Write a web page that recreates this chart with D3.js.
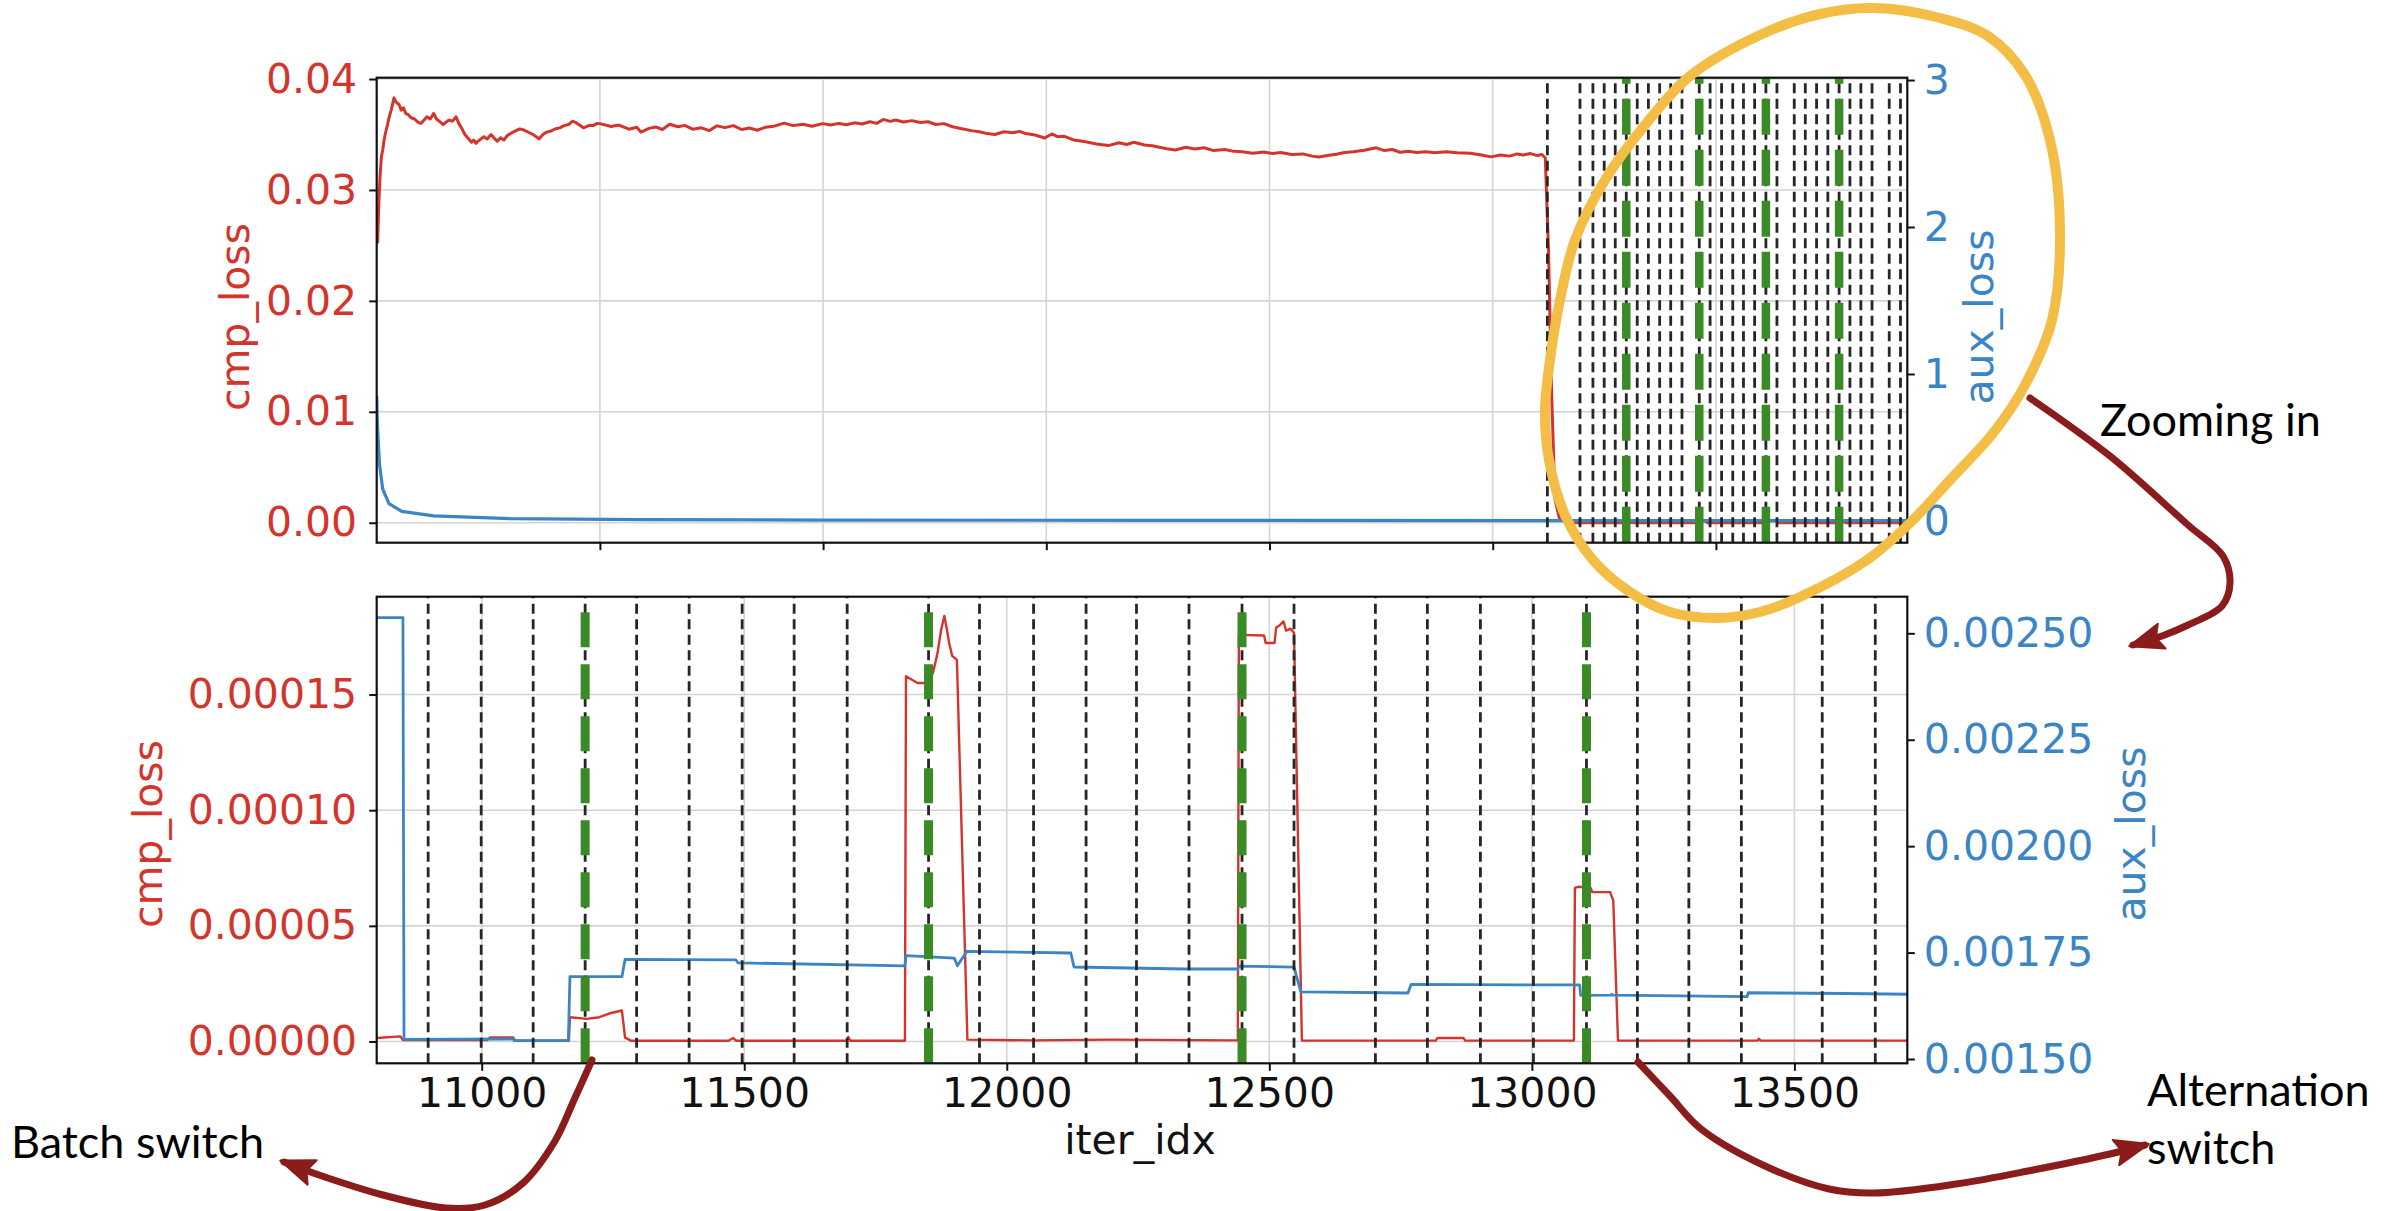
<!DOCTYPE html>
<html><head><meta charset="utf-8">
<script src="https://cdn.jsdelivr.net/npm/d3@7"></script>
<style>html,body{margin:0;padding:0;background:#fff}</style>
</head><body><svg id="c" width="2408" height="1211" xmlns="http://www.w3.org/2000/svg"></svg>
<script>
// ---------------- DATA ----------------
// Overview (top panel), early part of cmp_loss (iteration, value)
const overviewCmpIter = [8,20,30,42,54,66,80,95,110,130,155,175,200,220,240,260,281,310,340,370,397,425,450,480,511,535,560,595,620,650,680,711,735,760,790,825,850,870,890,908,935,960,990,1024,1050,1080,1110,1139,1170,1200,1240,1282,1320,1360,1400,1430,1454,1490,1520,1560,1597,1640,1680,1720,1756,1780,1810,1853,1900,1940,1975,
2000,2100,2170,2260,2330,2368,2440,2500,2560,2625,2700,2760,2830,2910,2980,3050,3120,3196,3270,3340,3410,3482,3560,3653,3730,3820,3900,3996,4070,4140,4210,4282,4350,4420,4480,4539,4600,4650,4720,4796,4870,4940,5010,5082,5160,5254,5330,5400,5470,5540,5620,5700,5760,5814,5900,5985,6050,6100,6157,6250,6350,6450,6556,6650,6720,6785,6880,6950,7013,7080,7156,7250,7330,7413,7500,7600,7680,7756,7850,7950,8030,8099,8200,8300,8380,8442,8520,8600,8671,8750,8850,8957,9030,9100,9170,9243,9320,9400,9480,9585,9680,9800,9900,9985,10070,10150,10220,10271,10340,10400,10440,10471,10500,10528,10558,10600,10700];
const overviewCmpVal = [0.0252,0.0290,0.0312,0.0330,0.0336,0.0345,0.0352,0.0358,0.0365,0.0372,0.0383,0.0379,0.0377,0.0372,0.0374,0.0369,0.0368,0.0365,0.0364,0.0361,0.0360,0.0363,0.0366,0.0364,0.0369,0.0364,0.0362,0.0359,0.0361,0.0363,0.0362,0.0366,0.0360,0.0356,0.0350,0.0346,0.0343,0.0345,0.0342,0.0344,0.0346,0.0348,0.0346,0.0350,0.0347,0.0344,0.0347,0.0345,0.0349,0.0351,0.0353,0.0355,0.0354,0.0352,0.0350,0.0348,0.0346,0.0350,0.0352,0.0353,0.0355,0.0356,0.0358,0.0359,0.0362,0.0361,0.0359,0.0356,0.0358,0.0358,0.0360,
0.03598,0.03572,0.03585,0.03548,0.03565,0.03522,0.03555,0.03568,0.03545,0.03592,0.03570,0.03582,0.03548,0.03560,0.03535,0.03578,0.03562,0.03580,0.03545,0.03558,0.03538,0.03565,0.03575,0.03602,0.03580,0.03592,0.03575,0.03598,0.03585,0.03600,0.03588,0.03605,0.03595,0.03615,0.03600,0.03636,0.03618,0.03630,0.03612,0.03625,0.03608,0.03615,0.03590,0.03598,0.03570,0.03550,0.03535,0.03525,0.03508,0.03500,0.03525,0.03515,0.03528,0.03508,0.03495,0.03468,0.03505,0.03480,0.03485,0.03450,0.03435,0.03415,0.03400,0.03425,0.03410,0.03430,0.03405,0.03398,0.03385,0.03372,0.03360,0.03385,0.03370,0.03380,0.03355,0.03365,0.03348,0.03345,0.03330,0.03342,0.03328,0.03338,0.03320,0.03325,0.03305,0.03298,0.03310,0.03322,0.03338,0.03345,0.03358,0.03380,0.03355,0.03365,0.03340,0.03348,0.03338,0.03345,0.03335,0.03345,0.03335,0.03330,0.03315,0.03298,0.03315,0.03305,0.03325,0.03315,0.03328,0.03310,0.03320,0.03290,0.0246,0.0117,0.0021,0.0003,0.000005];
// Overview, early part of aux_loss
const overviewAuxIter = [0,3,8,25,54,110,225,511,1194,2339,4000,7000,10700];
const overviewAuxVal  = [0.85,0.75,0.63,0.386,0.216,0.118,0.065,0.034,0.016,0.0095,0.006,0.004,0.0026];

// Zoomed window (bottom panel)
const zoomCmpIter = [10800,10845,10850,11010,11016,11060,11064,11166,11168,11200,11224,11243,11267,11273,11285,11470,11479,11485,11695,11698,11702,11806,11808,11830,11845,11848,11852,11860,11868,11875,11881,11886,11890,11896,11905,11925,12050,12200,12350,12440,12442,12490,12493,12510,12513,12520,12527,12532,12540,12547,12562,12817,12820,12870,12873,13080,13082,13088,13112,13115,13149,13155,13164,13430,13432,13436,13715];
const zoomCmpVal = [0.0000015,0.0000022,0.0000006,0.0000006,0.0000018,0.0000018,0.0000003,0.0000003,0.0000105,0.0000098,0.0000105,0.0000121,0.0000134,0.0000017,0.0000003,0.0000003,0.0000015,0.0000003,0.0000003,0.0000020,0.0000003,0.0000003,0.0001579,0.000155,0.000155,0.0001525,0.000155,0.00016,0.0001678,0.000178,0.000184,0.000178,0.0001725,0.0001667,0.000165,0.0000008,0.0000005,0.0000008,0.0000006,0.0000005,0.0001758,0.0001755,0.0001723,0.0001723,0.000179,0.00018,0.0001816,0.0001776,0.0001785,0.0001767,0.0000004,0.0000004,0.0000015,0.0000015,0.0000004,0.0000004,0.0000664,0.0000669,0.0000664,0.0000646,0.0000646,0.000061,0.0000004,0.0000004,0.0000012,0.0000004,0.0000004];
const zoomAuxIter = [10800,10850,10852,11060,11062,11165,11168,11267,11273,11484,11488,11806,11808,11900,11906,11910,11924,12122,12128,12340,12440,12442,12547,12560,12764,12770,12983,13091,13093,13150,13152,13154,13410,13412,13600,13715];
const zoomAuxVal = [0.002537,0.002537,0.0015463,0.001547,0.001543,0.001543,0.0016934,0.0016934,0.0017338,0.001733,0.001726,0.0017186,0.001743,0.001737,0.001719,0.001727,0.0017526,0.001749,0.0017161,0.0017114,0.0017114,0.001718,0.001716,0.0016576,0.001655,0.0016752,0.0016743,0.0016743,0.0016493,0.00165,0.001652,0.00165,0.0016463,0.0016556,0.0016539,0.0016521];

// Event markers
const batchSwitchIters = [10490,10782,10898,10999,11098,11197,11295,11395,11496,11595,11696,11851,11948,12051,12151,12247,12347,12448,12547,12702,12801,12902,13003,13104,13201,13299,13399,13553,13654];
const alternationSwitchIters = [11197,11851,12448,13104];

// Axes ticks
const topXTicks = [2000,4000,6000,8000,10000,12000];
const topCmpTicks = [0,0.01,0.02,0.03,0.04];
const topAuxTicks = [0,1,2,3];
const botXTicks = [11000,11500,12000,12500,13000,13500];
const botCmpTicks = [0,0.00005,0.0001,0.00015];
const botAuxTicks = [0.0015,0.00175,0.002,0.00225,0.0025];

// ---------------- STYLE ----------------
const RED = "#d3352d", BLUE = "#3b85c5", GREEN = "#3a8a26", DASHC = "#262626", GRID = "#d4d4d4";
const FONT = "DejaVu Sans";
const svg = d3.select("#c");
svg.append("rect").attr("width",2408).attr("height",1211).attr("fill","#fff");

const L = 376.7, R = 1907.3;

function panel(o){
  const g = svg.append("g");
  const x = d3.scaleLinear().domain(o.xDomain).range([L,R]);
  const yL = d3.scaleLinear().domain(o.yLDomain).range([o.bottom,o.top]);
  const yR = d3.scaleLinear().domain(o.yRDomain).range([o.bottom,o.top]);
  const cid = "clip"+o.id;
  svg.append("defs").append("clipPath").attr("id",cid).append("rect")
     .attr("x",L).attr("y",o.top).attr("width",R-L).attr("height",o.bottom-o.top);
  // grid
  const grid = g.append("g").attr("clip-path",`url(#${cid})`);
  grid.selectAll(".gx").data(o.xTicks).join("line")
     .attr("x1",d=>x(d)).attr("x2",d=>x(d)).attr("y1",o.top).attr("y2",o.bottom)
     .attr("stroke",GRID).attr("stroke-width",1.6);
  grid.selectAll(".gy").data(o.yLTicks).join("line")
     .attr("x1",L).attr("x2",R).attr("y1",d=>yL(d)).attr("y2",d=>yL(d))
     .attr("stroke",GRID).attr("stroke-width",1.6);
  const plot = g.append("g").attr("clip-path",`url(#${cid})`);
  const lineL = d3.line().x(d=>x(d[0])).y(d=>yL(d[1]));
  const lineR = d3.line().x(d=>x(d[0])).y(d=>yR(d[1]));
  plot.append("path").attr("d",lineL(d3.zip(o.cmpIter,o.cmpVal)))
      .attr("fill","none").attr("stroke",RED).attr("stroke-width",o.redW).attr("stroke-linejoin","round");
  plot.append("path").attr("d",lineR(d3.zip(o.auxIter,o.auxVal)))
      .attr("fill","none").attr("stroke",BLUE).attr("stroke-width",o.blueW).attr("stroke-linejoin","round");
  // event lines (drawn bottom -> top so the dash pattern starts at the bottom)
  plot.selectAll(".bs").data(batchSwitchIters).join("line")
      .attr("x1",d=>x(d)).attr("x2",d=>x(d)).attr("y1",o.bottom).attr("y2",o.top)
      .attr("stroke",DASHC).attr("stroke-width",2.8).attr("stroke-dasharray","10,5.5");
  plot.selectAll(".as").data(alternationSwitchIters).join("line")
      .attr("x1",d=>x(d)).attr("x2",d=>x(d)).attr("y1",o.bottom).attr("y2",o.top)
      .attr("stroke",GREEN).attr("stroke-width",o.greenW).attr("stroke-dasharray",o.greenDash);
  // axes
  const axL = d3.axisLeft(yL).tickValues(o.yLTicks).tickFormat(o.yLFmt).tickSize(7.5).tickPadding(12);
  const axR = d3.axisRight(yR).tickValues(o.yRTicks).tickFormat(o.yRFmt).tickSize(7.5).tickPadding(9);
  const axB = d3.axisBottom(x).tickValues(o.xTicks).tickFormat(o.xFmt).tickSize(7.5).tickPadding(7);
  const gl = g.append("g").attr("transform",`translate(${L},0)`).call(axL);
  const gr = g.append("g").attr("transform",`translate(${R},0)`).call(axR);
  const gb = g.append("g").attr("transform",`translate(0,${o.bottom})`).call(axB);
  for (const [ga,col] of [[gl,RED],[gr,BLUE],[gb,"#111"]]){
    ga.select(".domain").remove();
    ga.selectAll(".tick line").attr("stroke","#111").attr("stroke-width",2);
    ga.selectAll(".tick text").attr("fill",col).attr("font-family",FONT).attr("font-size",41);
  }
  // frame
  g.append("rect").attr("x",L).attr("y",o.top).attr("width",R-L).attr("height",o.bottom-o.top)
   .attr("fill","none").attr("stroke","#111").attr("stroke-width",2.2);
  // axis labels
  g.append("text").attr("transform",`translate(${o.cmpLabelX},${o.labelY}) rotate(-90)`)
   .attr("text-anchor","middle").attr("font-family",FONT).attr("font-size",41).attr("fill",RED).text("cmp_loss");
  g.append("text").attr("transform",`translate(${o.auxLabelX},${o.labelY}) rotate(-90)`)
   .attr("text-anchor","middle").attr("font-family",FONT).attr("font-size",41).attr("fill",BLUE).text("aux_loss");
  if (o.xLabel){
    g.append("text").attr("x",1140).attr("y",1154).attr("text-anchor","middle")
     .attr("font-family",FONT).attr("font-size",41).attr("fill","#111").text(o.xLabel);
  }
}

panel({
  id:"top", top:77.7, bottom:542.7,
  xDomain:[0,13715], yLDomain:[-0.0018,0.04012], yRDomain:[-0.148,3.016],
  xTicks:topXTicks, yLTicks:topCmpTicks, yRTicks:topAuxTicks,
  xFmt:()=>"", yLFmt:d3.format(".2f"), yRFmt:d3.format("d"),
  cmpIter:overviewCmpIter.concat(zoomCmpIter), cmpVal:overviewCmpVal.concat(zoomCmpVal),
  auxIter:overviewAuxIter.concat(zoomAuxIter), auxVal:overviewAuxVal.concat(zoomAuxVal),
  redW:3, blueW:3.2, greenW:8.5, greenDash:"36,15",
  cmpLabelX:249, auxLabelX:1993, labelY:317
});
panel({
  id:"bot", top:596.7, bottom:1063.3,
  xDomain:[10800,13715], yLDomain:[-0.00000942,0.0001923], yRDomain:[0.0014899,0.002586],
  xTicks:botXTicks, yLTicks:botCmpTicks, yRTicks:botAuxTicks,
  xFmt:d3.format("d"), yLFmt:d3.format(".5f"), yRFmt:d3.format(".5f"),
  cmpIter:zoomCmpIter, cmpVal:zoomCmpVal, auxIter:zoomAuxIter, auxVal:zoomAuxVal,
  redW:2.4, blueW:2.8, greenW:9, greenDash:"35,17",
  cmpLabelX:162, auxLabelX:2145, labelY:834, xLabel:"iter_idx"
});

// ---------------- ANNOTATIONS ----------------
const ann = svg.append("g");
const ellipsePts = [[1874,8],[1940,18],[1988,36],[2025,75],[2050,140],[2060,232],[2052,320],[2025,385],[1994,432],[1950,480],[1910,523],[1867,560],[1800,597],[1760,612],[1717,618],[1670,612],[1630,592],[1593,560],[1565,515],[1549,460],[1545,411],[1550,360],[1560,300],[1575,240],[1605,180],[1645,125],[1690,76],[1760,35],[1820,14]];
ann.append("path").attr("d",d3.line().curve(d3.curveCatmullRomClosed)(ellipsePts))
   .attr("fill","none").attr("stroke","#f4bd45").attr("stroke-width",10);

const AR = "#8b1c1c";
function arrow(pts){
  ann.append("path").attr("d",d3.line().curve(d3.curveCatmullRom)(pts))
     .attr("fill","none").attr("stroke",AR).attr("stroke-width",7).attr("stroke-linecap","round");
  const t = pts[pts.length-1], p = pts[pts.length-2];
  const dx = t[0]-p[0], dy = t[1]-p[1], len = Math.hypot(dx,dy), ux = dx/len, uy = dy/len;
  const bl = 30, hw = 13;
  const bx = t[0]-ux*bl, by = t[1]-uy*bl;
  ann.append("path").attr("d",`M${t[0]+ux*4},${t[1]+uy*4}L${bx-uy*hw},${by+ux*hw}L${bx+ux*6},${by+uy*6}L${bx+uy*hw},${by-ux*hw}Z`)
     .attr("fill",AR).attr("stroke",AR).attr("stroke-width",2).attr("stroke-linejoin","round");
}
arrow([[2030,398],[2110,456],[2188,525],[2223,556],[2230,583],[2222,606],[2188,625],[2162,636],[2133,645]]);
arrow([[592,1060],[574,1100],[555,1141],[523,1183],[485,1205],[446,1208],[383,1195],[319,1175],[284,1162]]);
arrow([[1638,1062],[1670,1096],[1701,1129],[1765,1166],[1829,1189],[1874,1193],[1956,1184],[2033,1170],[2110,1154],[2145,1145]]);

const AF = "Lato";
function label(txt,x,y){
  ann.append("text").attr("x",x).attr("y",y).attr("font-family",AF).attr("font-size",45)
     .attr("fill","#000").text(txt);
}
label("Zooming in",2100,436);
label("Batch switch",11,1158);
label("Alternation",2147,1106);
label("switch",2147,1164);
</script></body></html>
